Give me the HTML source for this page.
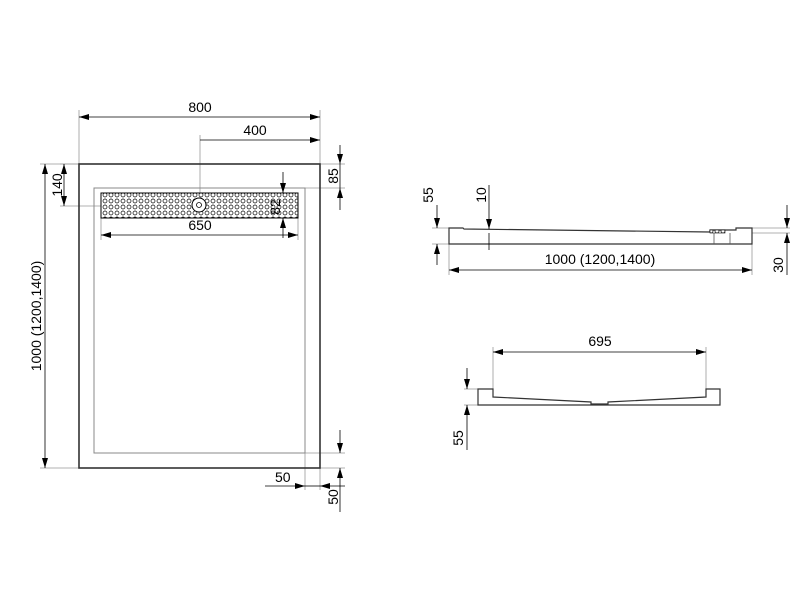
<!DOCTYPE html>
<html><head><meta charset="utf-8"><style>body{margin:0;background:#fff}svg{display:block}</style></head><body>
<svg width="800" height="600" viewBox="0 0 800 600" xmlns="http://www.w3.org/2000/svg" font-family="Liberation Sans, sans-serif" font-size="14" fill="none">
<defs>
<marker id="a" viewBox="0 0 10 6" refX="10" refY="3" markerWidth="10" markerHeight="6" orient="auto-start-reverse" markerUnits="userSpaceOnUse"><path d="M0,0L10,3L0,6z" fill="#000"/></marker>
<pattern id="h" width="6" height="6" patternUnits="userSpaceOnUse"><circle cx="3" cy="3" r="2" stroke="#000" stroke-width="0.7" fill="#fff"/></pattern>
</defs>
<g stroke="#999" stroke-width="0.8">
<line x1="79" y1="110" x2="79" y2="164"/><line x1="320" y1="110" x2="320" y2="164"/>
<line x1="200" y1="135" x2="200" y2="206"/>
<line x1="60" y1="164" x2="79" y2="164"/><line x1="60" y1="206" x2="101" y2="206"/>
<line x1="40" y1="164" x2="79" y2="164"/><line x1="40" y1="468" x2="79" y2="468"/>
<line x1="320" y1="164" x2="345" y2="164"/><line x1="305" y1="188" x2="345" y2="188"/>
<line x1="101" y1="218" x2="101" y2="240"/><line x1="298" y1="218" x2="298" y2="240"/>
<line x1="283" y1="193" x2="298" y2="193"/>
<line x1="305" y1="453" x2="305" y2="490"/><line x1="320" y1="468" x2="320" y2="490"/>
<line x1="305" y1="453" x2="345" y2="453"/><line x1="320" y1="468" x2="345" y2="468"/>
<line x1="432" y1="228" x2="449" y2="228"/><line x1="432" y1="244" x2="449" y2="244"/>
<line x1="449" y1="244" x2="449" y2="275"/><line x1="752" y1="244" x2="752" y2="275"/>
<line x1="752" y1="228" x2="790" y2="228"/><line x1="752" y1="233" x2="790" y2="233"/>
<line x1="493" y1="347" x2="493" y2="389"/><line x1="706" y1="347" x2="706" y2="389"/>
<line x1="464" y1="389" x2="478" y2="389"/><line x1="464" y1="405" x2="478" y2="405"/>
</g>
<rect x="79" y="164" width="241" height="304" stroke="#333" stroke-width="1.6"/>
<rect x="94" y="188" width="211" height="265" stroke="#888" stroke-width="1"/>
<rect x="101" y="193" width="197" height="25" fill="url(#h)" stroke="#000" stroke-width="1"/>
<circle cx="199" cy="205" r="7" stroke="#000" stroke-width="1" fill="#fff"/><circle cx="199" cy="205" r="2.5" stroke="#000" stroke-width="0.8"/>
<g stroke="#000" stroke-width="0.8">
<line x1="79" y1="117" x2="320" y2="117" marker-start="url(#a)" marker-end="url(#a)"/>
<line x1="200" y1="140" x2="320" y2="140" marker-end="url(#a)"/>
<line x1="64" y1="164" x2="64" y2="206" marker-start="url(#a)" marker-end="url(#a)"/>
<line x1="45" y1="164" x2="45" y2="468" marker-start="url(#a)" marker-end="url(#a)"/>
<line x1="340" y1="145" x2="340" y2="164" marker-end="url(#a)"/><line x1="340" y1="210" x2="340" y2="188" marker-end="url(#a)"/><line x1="340" y1="164" x2="340" y2="188"/>
<line x1="283" y1="172" x2="283" y2="193" marker-end="url(#a)"/><line x1="283" y1="238" x2="283" y2="218" marker-end="url(#a)"/>
<line x1="101" y1="235" x2="298" y2="235" marker-start="url(#a)" marker-end="url(#a)"/>
<line x1="265" y1="486" x2="305" y2="486" marker-end="url(#a)"/><line x1="345" y1="486" x2="320" y2="486" marker-end="url(#a)"/><line x1="305" y1="486" x2="320" y2="486"/>
<line x1="340" y1="430" x2="340" y2="453" marker-end="url(#a)"/><line x1="340" y1="512" x2="340" y2="468" marker-end="url(#a)"/>
</g>
<g fill="#000" stroke="none">
<text x="200" y="112" text-anchor="middle">800</text>
<text x="255" y="135" text-anchor="middle">400</text>
<text x="200" y="230" text-anchor="middle">650</text>
<text x="275" y="482">50</text>
<text transform="translate(62,185) rotate(-90)" text-anchor="middle">140</text>
<text transform="translate(41,316) rotate(-90)" text-anchor="middle">1000 (1200,1400)</text>
<text transform="translate(338,176) rotate(-90)" text-anchor="middle">85</text>
<text transform="translate(280,207) rotate(-90)" text-anchor="middle">82</text>
<text transform="translate(338,497) rotate(-90)" text-anchor="middle">50</text>
</g>
<path d="M449,228 H463 L464,229 L710,232 V230 H736 V228 H752 V244 H449 Z" stroke="#333" stroke-width="1.2" fill="#fff"/>
<rect x="710" y="230" width="15" height="3" fill="url(#h)" stroke="#000" stroke-width="0.6"/>
<line x1="714" y1="233" x2="714" y2="244" stroke="#555" stroke-width="0.8"/><line x1="730" y1="233" x2="730" y2="244" stroke="#555" stroke-width="0.8"/>
<g stroke="#000" stroke-width="0.8">
<line x1="437" y1="205" x2="437" y2="228" marker-end="url(#a)"/><line x1="437" y1="265" x2="437" y2="244" marker-end="url(#a)"/>
<line x1="489" y1="185" x2="489" y2="229" marker-end="url(#a)"/><line x1="489" y1="250" x2="489" y2="233"/>
<line x1="449" y1="270" x2="752" y2="270" marker-start="url(#a)" marker-end="url(#a)"/>
<line x1="787" y1="205" x2="787" y2="228" marker-end="url(#a)"/><line x1="787" y1="275" x2="787" y2="233" marker-end="url(#a)"/>
</g>
<g fill="#000" stroke="none">
<text transform="translate(433,195) rotate(-90)" text-anchor="middle">55</text>
<text transform="translate(486,195) rotate(-90)" text-anchor="middle">10</text>
<text x="600" y="264" text-anchor="middle">1000 (1200,1400)</text>
<text transform="translate(783,265) rotate(-90)" text-anchor="middle">30</text>
</g>
<path d="M478,389 H493 V397 L591,402 V404 H608 V402 L706,397 V389 H720 V405 H478 Z" stroke="#333" stroke-width="1.2" fill="#fff"/>
<g stroke="#000" stroke-width="0.8">
<line x1="493" y1="352" x2="706" y2="352" marker-start="url(#a)" marker-end="url(#a)"/>
<line x1="467" y1="368" x2="467" y2="389" marker-end="url(#a)"/><line x1="467" y1="450" x2="467" y2="405" marker-end="url(#a)"/>
</g>
<g fill="#000" stroke="none">
<text x="600" y="346" text-anchor="middle">695</text>
<text transform="translate(463,438) rotate(-90)" text-anchor="middle">55</text>
</g>
</svg>
</body></html>
